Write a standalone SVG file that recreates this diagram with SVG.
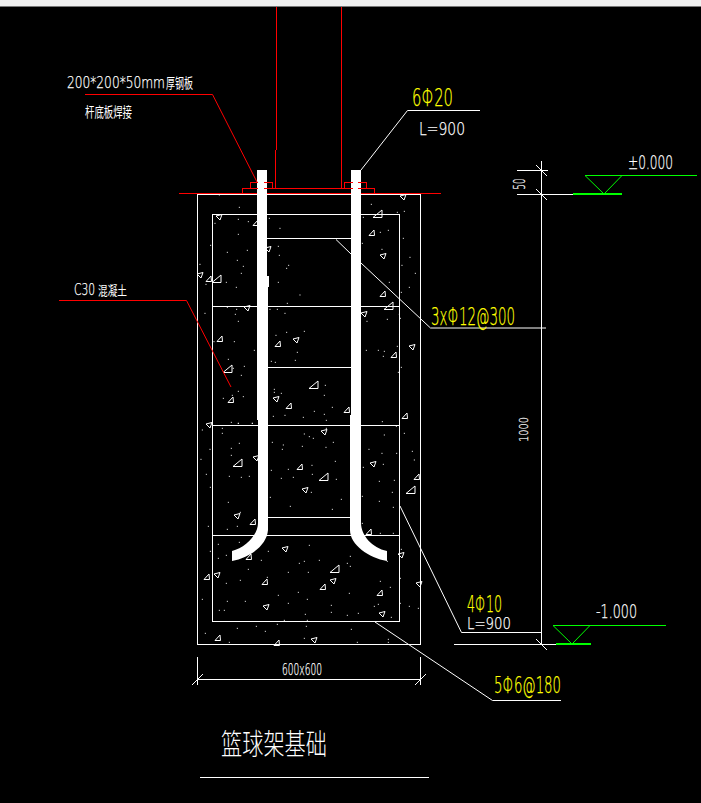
<svg xmlns="http://www.w3.org/2000/svg" xmlns:xlink="http://www.w3.org/1999/xlink" width="701" height="803" viewBox="0 0 701 803">
<style>
.l{fill:none;stroke:#fff;stroke-width:1;shape-rendering:crispEdges}
.l2{fill:none;stroke:#fff;stroke-width:1;}
.r{fill:none;stroke:#f00;stroke-width:1;shape-rendering:crispEdges}
.r2{fill:none;stroke:#f00;stroke-width:1}
.g{fill:none;stroke:#0f0;stroke-width:1;shape-rendering:crispEdges}
.g2{fill:none;stroke:#0f0;stroke-width:1}
.g3{fill:none;stroke:#0f0;stroke-width:2;shape-rendering:crispEdges}
.d{fill:none;stroke:#fff;stroke-width:3;stroke-linecap:square;shape-rendering:crispEdges}
.t{fill:none;stroke:#fff;stroke-width:1}
text{font-family:"DejaVu Sans","Liberation Sans","Noto Sans CJK SC",sans-serif;font-weight:200;fill:#fff;stroke:#fff;stroke-width:.25}
.cn{font-family:"Noto Sans CJK SC",sans-serif;font-weight:400;stroke:none}
.ttl{font-family:"Noto Sans CJK SC",sans-serif;font-weight:200;stroke:none}
text.y{fill:#ff0;stroke:#ff0}
</style>
<defs>
<path id="a" class="t" d="M-3 2.500H2.500L2 -3Z"/>
<path id="A" class="t" d="M-5 3.500H4V-4Z"/>
<path id="b" class="t" d="M-3 -1L3 -2.500L1 3Z"/>
</defs>
<rect width="701" height="803" fill="#000"/>
<rect width="701" height="6.500" fill="#f0f0f0"/>

<g id="post">
<path class="r" d="M276.500 7V150M275.500 150V188M341.500 7V188"/>
<path class="r" d="M179 193.500H441"/>
</g>

<g id="foundation">
<rect class="l" x="197.500" y="194.500" width="223" height="450"/>
<rect class="l" x="212.500" y="214.500" width="187" height="407"/>
<path class="l" d="M267 238.500H351M212 306.500H400M267 367.500H351M212 425.500H400M267 517.500H351M212 535.500H400"/>
</g>

<g id="concrete-dots">
<path class="d" transform="translate(190 190) scale(.33333)" d="M88 15h0M148 52h0M145 88h0M175 95h0M75 100h0M145 133h0M62 166h0M112 187h0M172 181h0M142 211h0M160 229h0M30 223h0M154 250h0M109 277h0M139 292h0M48 283h0M238 85h0M270 115h0M265 169h0M268 196h0M296 226h0M290 235h0M265 277h0M330 315h0M292 340h0M240 358h0M262 358h0M285 370h0M112 352h0M140 358h0M136 373h0M145 394h0M45 370h0M72 455h0M133 455h0M193 481h0M115 508h0M130 535h0M163 529h0M154 556h0M145 604h0M160 620h0M100 625h0M127 616h0M124 697h0M145 700h0M187 700h0M97 715h0M258 436h0M290 427h0M343 424h0M322 487h0M244 514h0M256 517h0M316 511h0M253 598h0M253 607h0M274 610h0M406 586h0M403 616h0M427 652h0M373 664h0M403 673h0M340 682h0M285 676h0M250 679h0M409 691h0M409 715h0M544 43h0M520 82h0M643 64h0M622 67h0M571 127h0M595 121h0M517 160h0M640 145h0M576 178h0M660 202h0M636 226h0M676 250h0M598 277h0M634 307h0M658 292h0M531 394h0M592 388h0M628 373h0M631 385h0M529 481h0M565 481h0M583 484h0M580 499h0M622 469h0M634 532h0M625 547h0M619 709h0M577 695h0"/>
<path class="d" transform="translate(190 420) scale(.33333)" d="M37 30h0M97 40h0M145 10h0M187 10h0M343 42h0M358 50h0M370 55h0M430 67h0M583 45h0M643 40h0M667 94h0M673 120h0M620 100h0M576 100h0M537 88h0M148 70h0M60 88h0M124 85h0M124 106h0M247 67h0M280 75h0M277 88h0M337 79h0M408 82h0M33 118h0M436 124h0M366 136h0M580 133h0M520 142h0M244 151h0M295 148h0M49 163h0M118 169h0M154 172h0M178 169h0M274 175h0M310 172h0M367 163h0M439 178h0M568 184h0M613 181h0M61 202h0M364 217h0M607 217h0M517 229h0M241 232h0M454 238h0M568 244h0M115 247h0M301 259h0M427 268h0M610 262h0M55 319h0M112 328h0M142 319h0M151 277h0M517 310h0M571 340h0M610 340h0M85 373h0M148 367h0M358 376h0M634 388h0M61 394h0M85 415h0M109 406h0M214 421h0M235 394h0M343 424h0M328 430h0M388 421h0M481 409h0M472 430h0M481 439h0M592 424h0M175 448h0M295 457h0M355 457h0M232 472h0M151 481h0M109 490h0M571 484h0M601 502h0M325 517h0M478 520h0M265 526h0M37 538h0M112 544h0M166 544h0M295 550h0M352 538h0M424 556h0M565 553h0M553 559h0M88 571h0M103 571h0M658 559h0M424 577h0M685 565h0M505 580h0M346 583h0M472 586h0M283 601h0M352 601h0M604 592h0M262 613h0M199 619h0M226 634h0M142 625h0M349 619h0M484 628h0M46 640h0M118 667h0M343 655h0M502 667h0M595 658h0M595 667h0M631 475h0M631 550h0"/>
</g>

<g id="aggregate">
<use href="#b" x="403" y="197"/><use href="#A" x="378" y="214"/><use href="#a" x="372" y="233"/><use href="#b" x="383" y="256"/><use href="#a" x="383" y="294"/><use href="#A" x="389" y="306"/><use href="#b" x="364" y="314"/><use href="#b" x="412" y="347"/><use href="#a" x="394" y="355"/><use href="#a" x="405" y="416"/><use href="#a" x="347" y="410"/><use href="#a" x="289" y="406"/><use href="#b" x="276" y="399"/><use href="#A" x="314" y="385"/><use href="#a" x="231" y="400"/><use href="#A" x="228" y="369"/><use href="#a" x="220" y="339"/><use href="#a" x="278" y="344"/><use href="#b" x="296" y="340"/><use href="#b" x="247" y="308"/><use href="#A" x="217" y="279"/><use href="#a" x="209" y="279"/><use href="#b" x="200" y="275"/><use href="#b" x="219" y="217"/><use href="#a" x="256" y="223"/><use href="#b" x="268" y="249"/><use href="#b" x="209" y="425"/><use href="#b" x="324" y="432"/><use href="#A" x="238" y="463"/><use href="#b" x="256" y="458"/><use href="#a" x="300" y="467"/><use href="#A" x="324" y="477"/><use href="#b" x="305" y="490"/><use href="#b" x="373" y="464"/><use href="#a" x="417" y="477"/><use href="#A" x="411" y="490"/><use href="#b" x="237" y="516"/><use href="#a" x="253" y="522"/><use href="#a" x="369" y="532"/><use href="#b" x="285" y="549"/><use href="#a" x="249" y="557"/><use href="#b" x="401" y="555"/><use href="#A" x="335" y="569"/><use href="#b" x="333" y="581"/><use href="#b" x="217" y="575"/><use href="#a" x="207" y="577"/><use href="#a" x="265" y="582"/><use href="#a" x="323" y="587"/><use href="#a" x="380" y="593"/><use href="#b" x="266" y="607"/><use href="#b" x="382" y="614"/><use href="#b" x="419" y="584"/><use href="#a" x="218" y="638"/><use href="#b" x="314" y="640"/><use href="#a" x="277" y="643"/>
</g>

<g id="rebar">
<path fill="#fff" d="M257 170H267V276H269V287H268V530C267 545 250 558 232 561V551C245 548 258 535 258 523V420H257Z"/>
<path fill="#fff" d="M351 170H361V523C361 535 372 548 387 551V561C369 558 350 545 350 530V415H351Z"/>
</g>

<g id="base-plate">
<path class="r" d="M242.500 193V188.500H258M264 188.500H352.500M358 188.500H374.500V193"/>
<path class="r" d="M250.500 188V182.500H258M264 182.500H272.500V188M344.500 188V182.500H353M358 182.500H366.500V188"/>
</g>

<g id="connectors">
<path class="r2" d="M85 94.500H212.500L257 182"/>
<path class="r2" d="M59 300.500H186.500L231 387"/>
<path class="l2" d="M361 170L407.500 110.500H480"/>
<path class="l2" d="M336 239.500L351 254M361 263L430.500 328H546"/>
<path class="l2" d="M400 506L461.500 632.500H541"/>
<path class="l2" d="M375 622L492.500 700.500H561"/>
</g>

<g id="dimensions">
<path class="l" d="M541.500 161V644M517 170.500H548M517 194.500H573M454 644.500H556M197.500 657V685M420.500 657V685M197 679.500H421"/>
<path class="l2" d="M536 165L547 176M536 189L547 200M536 639L547 650M192 685L203 674M415 685L426 674"/>
<text x="525" y="189.500" font-size="15" transform="rotate(-90 525 189.500)" textLength="11" lengthAdjust="spacingAndGlyphs">50</text>
<text x="528" y="442" font-size="12" transform="rotate(-90 528 442)" textLength="25" lengthAdjust="spacingAndGlyphs">1000</text>
<text x="282" y="675" font-size="15" textLength="40" lengthAdjust="spacingAndGlyphs">600x600</text>
</g>

<g id="level-top">
<path class="g2" d="M585 175.500L604 194M622 175.500L604 194"/>
<path class="g" d="M585 175.500H697"/>
<path class="g3" d="M573 194H622"/>
<text x="628" y="169" font-size="20" textLength="45" lengthAdjust="spacingAndGlyphs">±0.000</text>
</g>
<g id="level-bottom">
<path class="g2" d="M553 625.500L572 644M590 625.500L572 644"/>
<path class="g" d="M553 625.500H666"/>
<path class="g3" d="M556 644H591"/>
<text x="596" y="618" font-size="20" textLength="41" lengthAdjust="spacingAndGlyphs">-1.000</text>
</g>

<g id="labels">
<text y="87.500" font-size="16"><tspan x="67" textLength="98" lengthAdjust="spacingAndGlyphs">200*200*50mm</tspan><tspan class="cn" x="166" font-size="14" textLength="27" lengthAdjust="spacingAndGlyphs">厚钢板</tspan></text>
<text class="cn" x="85" y="117" font-size="14" textLength="47" lengthAdjust="spacingAndGlyphs">杆底板焊接</text>
<text y="295" font-size="15"><tspan x="74" textLength="21" lengthAdjust="spacingAndGlyphs">C30</tspan><tspan class="cn" x="98" font-size="13" textLength="29" lengthAdjust="spacingAndGlyphs">混凝土</tspan></text>
<text class="y" x="412" y="106" font-size="24" textLength="41" lengthAdjust="spacingAndGlyphs">6Φ20</text>
<text x="419" y="135" font-size="17" textLength="46" lengthAdjust="spacingAndGlyphs">L=900</text>
<text class="y" x="431" y="325" font-size="24" textLength="84" lengthAdjust="spacingAndGlyphs">3xΦ12@300</text>
<text class="y" x="467" y="612" font-size="23" textLength="35" lengthAdjust="spacingAndGlyphs">4Φ10</text>
<text x="467" y="629" font-size="16" textLength="44" lengthAdjust="spacingAndGlyphs">L=900</text>
<text class="y" x="494" y="693" font-size="23" textLength="67" lengthAdjust="spacingAndGlyphs">5Φ6@180</text>
</g>

<g id="title">
<text class="ttl" x="221" y="755" font-size="29" textLength="106" lengthAdjust="spacingAndGlyphs">篮球架基础</text>
<path class="l" d="M200 777.500H429"/>
</g>
</svg>
